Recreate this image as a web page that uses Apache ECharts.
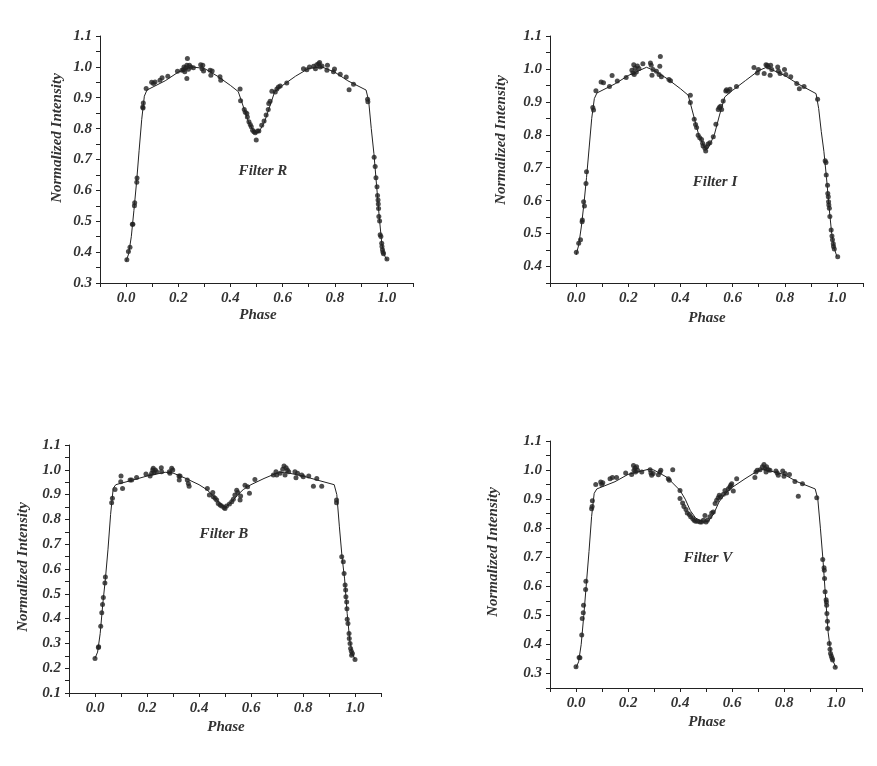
<!DOCTYPE html>
<html>
<head>
<meta charset="utf-8">
<script src="https://cdn.jsdelivr.net/npm/echarts@6/dist/echarts.min.js"></script>
<style>
  html, body { margin: 0; padding: 0; background: #fff; }
  #chart { width: 877px; height: 766px; }
</style>
</head>
<body>
<div id="chart"></div>
<script>
// observed points [phase, normalized intensity]
const rObs = [
  [0.003,0.375],[0.009,0.402],[0.015,0.416],[0.024,0.49],[0.026,0.49],[0.032,0.55],[0.033,0.56],
  [0.041,0.626],[0.042,0.64],[0.064,0.87],[0.066,0.883],[0.065,0.867],[0.077,0.93],[0.098,0.95],
  [0.105,0.946],[0.111,0.951],[0.13,0.957],[0.138,0.965],[0.16,0.97],[0.197,0.986],[0.214,0.989],
  [0.22,0.991],[0.222,1.0],[0.225,0.984],[0.229,0.997],[0.233,1.005],[0.233,0.962],[0.235,1.027],
  [0.239,0.992],[0.243,1.005],[0.248,1.0],[0.258,0.997],[0.286,1.007],[0.291,0.994],[0.294,1.005],
  [0.297,0.987],[0.322,0.989],[0.325,0.973],[0.33,0.987],[0.36,0.968],[0.363,0.957],[0.437,0.928],
  [0.439,0.89],[0.453,0.862],[0.457,0.853],[0.463,0.849],[0.465,0.838],[0.471,0.822],[0.476,0.813],
  [0.48,0.806],[0.485,0.795],[0.49,0.79],[0.495,0.787],[0.499,0.763],[0.504,0.792],[0.509,0.792],
  [0.52,0.811],[0.529,0.825],[0.537,0.844],[0.545,0.862],[0.547,0.881],[0.552,0.889],[0.559,0.921],
  [0.572,0.919],[0.578,0.928],[0.584,0.935],[0.591,0.938],[0.616,0.948],[0.68,0.994],[0.693,0.991],
  [0.703,1.0],[0.719,1.002],[0.726,0.994],[0.731,1.007],[0.738,1.01],[0.742,1.014],[0.744,1.0],
  [0.751,1.003],[0.77,0.989],[0.772,1.005],[0.795,0.984],[0.799,0.993],[0.821,0.976],[0.844,0.967],
  [0.855,0.926],[0.872,0.944],[0.926,0.895],[0.927,0.887],[0.951,0.707],[0.955,0.677],[0.958,0.641],
  [0.962,0.612],[0.964,0.583],[0.966,0.569],[0.967,0.556],[0.968,0.541],[0.969,0.515],[0.972,0.501],
  [0.974,0.456],[0.977,0.451],[0.98,0.429],[0.981,0.418],[0.983,0.408],[0.985,0.4],[0.987,0.395],[1.0,0.378]
];
const iObs = [
  [0.001,0.443],[0.01,0.471],[0.017,0.481],[0.023,0.536],[0.024,0.541],[0.029,0.597],[0.032,0.584],
  [0.038,0.652],[0.04,0.688],[0.064,0.883],[0.067,0.875],[0.076,0.934],[0.096,0.96],[0.105,0.958],
  [0.128,0.947],[0.138,0.98],[0.158,0.963],[0.192,0.974],[0.214,0.996],[0.218,0.988],[0.221,1.013],
  [0.223,0.983],[0.226,1.003],[0.231,0.991],[0.235,1.009],[0.241,1.001],[0.256,1.016],[0.285,1.018],
  [0.288,1.011],[0.291,0.981],[0.295,0.998],[0.308,0.993],[0.318,0.983],[0.323,1.038],[0.321,1.008],
  [0.327,0.976],[0.356,0.968],[0.362,0.964],[0.438,0.92],[0.438,0.898],[0.453,0.847],[0.458,0.831],
  [0.462,0.822],[0.468,0.799],[0.474,0.791],[0.481,0.786],[0.485,0.774],[0.487,0.766],[0.494,0.759],
  [0.497,0.751],[0.5,0.764],[0.506,0.772],[0.513,0.776],[0.526,0.794],[0.536,0.832],[0.545,0.877],
  [0.549,0.883],[0.554,0.887],[0.558,0.877],[0.564,0.903],[0.574,0.933],[0.577,0.937],[0.583,0.932],
  [0.59,0.938],[0.615,0.947],[0.682,1.004],[0.695,0.988],[0.699,0.998],[0.721,0.986],[0.728,1.013],
  [0.733,1.011],[0.737,1.006],[0.744,0.981],[0.746,1.011],[0.75,0.998],[0.773,1.006],[0.776,0.994],
  [0.782,0.986],[0.799,0.998],[0.804,0.983],[0.823,0.976],[0.846,0.956],[0.856,0.94],[0.874,0.947],
  [0.926,0.908],[0.955,0.721],[0.958,0.716],[0.959,0.678],[0.964,0.647],[0.965,0.622],[0.967,0.612],
  [0.968,0.597],[0.969,0.587],[0.971,0.577],[0.973,0.552],[0.978,0.511],[0.981,0.493],[0.983,0.481],
  [0.986,0.469],[0.987,0.461],[0.99,0.453],[1.003,0.43]
];
const bObs = [
  [0.0,0.239],[0.013,0.283],[0.014,0.286],[0.022,0.369],[0.026,0.424],[0.029,0.457],[0.032,0.485],
  [0.038,0.544],[0.04,0.568],[0.064,0.867],[0.067,0.885],[0.077,0.921],[0.1,0.975],[0.099,0.952],
  [0.106,0.925],[0.135,0.959],[0.141,0.959],[0.16,0.969],[0.196,0.983],[0.212,0.975],[0.218,0.986],
  [0.222,0.999],[0.224,1.006],[0.227,0.988],[0.232,0.999],[0.237,0.992],[0.255,1.008],[0.256,0.992],
  [0.286,0.992],[0.288,0.986],[0.295,1.006],[0.299,0.999],[0.323,0.975],[0.324,0.959],[0.327,0.975],
  [0.355,0.959],[0.359,0.945],[0.362,0.934],[0.432,0.925],[0.44,0.898],[0.453,0.908],[0.455,0.891],
  [0.462,0.885],[0.468,0.878],[0.474,0.864],[0.481,0.858],[0.487,0.854],[0.496,0.848],[0.5,0.844],
  [0.506,0.854],[0.517,0.862],[0.526,0.871],[0.532,0.881],[0.538,0.898],[0.545,0.918],[0.549,0.908],
  [0.558,0.878],[0.56,0.894],[0.577,0.938],[0.587,0.932],[0.594,0.905],[0.615,0.961],[0.686,0.979],
  [0.696,0.992],[0.699,0.979],[0.712,0.986],[0.722,1.002],[0.727,1.015],[0.731,0.979],[0.735,1.008],
  [0.74,0.999],[0.745,0.992],[0.769,0.992],[0.773,0.968],[0.779,0.986],[0.795,0.979],[0.801,0.972],
  [0.822,0.975],[0.84,0.934],[0.853,0.965],[0.872,0.934],[0.929,0.878],[0.929,0.867],[0.949,0.649],
  [0.955,0.629],[0.958,0.582],[0.962,0.535],[0.964,0.515],[0.965,0.488],[0.968,0.467],[0.969,0.44],
  [0.97,0.397],[0.973,0.38],[0.977,0.34],[0.978,0.32],[0.981,0.3],[0.983,0.279],[0.986,0.268],
  [0.987,0.252],[0.99,0.259],[1.0,0.235]
];
const vObs = [
  [0.0,0.323],[0.012,0.355],[0.015,0.354],[0.022,0.432],[0.024,0.489],[0.028,0.509],[0.029,0.535],
  [0.037,0.589],[0.038,0.617],[0.06,0.867],[0.062,0.875],[0.063,0.894],[0.076,0.95],[0.095,0.959],
  [0.099,0.95],[0.103,0.956],[0.131,0.97],[0.14,0.974],[0.156,0.974],[0.191,0.99],[0.214,0.985],
  [0.221,1.016],[0.223,0.999],[0.227,1.007],[0.229,0.993],[0.233,1.011],[0.237,0.999],[0.253,0.993],
  [0.285,1.001],[0.288,0.99],[0.291,0.982],[0.297,0.988],[0.317,0.984],[0.323,0.993],[0.326,0.999],
  [0.355,0.97],[0.359,0.965],[0.372,1.001],[0.4,0.93],[0.4,0.902],[0.41,0.887],[0.415,0.875],
  [0.423,0.864],[0.428,0.852],[0.436,0.847],[0.441,0.839],[0.449,0.833],[0.454,0.827],[0.46,0.824],
  [0.468,0.824],[0.477,0.821],[0.483,0.821],[0.49,0.827],[0.496,0.844],[0.5,0.821],[0.505,0.827],
  [0.515,0.839],[0.522,0.852],[0.528,0.856],[0.535,0.885],[0.541,0.896],[0.547,0.905],[0.551,0.913],
  [0.556,0.907],[0.567,0.917],[0.573,0.93],[0.579,0.921],[0.586,0.936],[0.592,0.942],[0.595,0.948],
  [0.599,0.953],[0.605,0.928],[0.618,0.97],[0.688,0.974],[0.692,0.993],[0.697,0.999],[0.708,1.001],
  [0.717,1.011],[0.723,1.019],[0.727,1.005],[0.731,0.993],[0.733,1.011],[0.74,1.001],[0.746,0.999],
  [0.769,0.997],[0.774,0.99],[0.778,0.982],[0.795,0.997],[0.8,0.979],[0.804,0.988],[0.821,0.985],
  [0.842,0.961],[0.855,0.91],[0.871,0.953],[0.926,0.905],[0.949,0.692],[0.954,0.664],[0.955,0.655],
  [0.956,0.627],[0.958,0.581],[0.962,0.554],[0.963,0.546],[0.964,0.535],[0.965,0.506],[0.967,0.48],
  [0.968,0.455],[0.974,0.403],[0.977,0.383],[0.979,0.369],[0.982,0.36],[0.985,0.352],[0.987,0.346],[0.997,0.321]
];

// model curves [phase, normalized intensity]
const rFit = [
  [0,0.37],[0.01,0.395],[0.02,0.45],[0.03,0.535],[0.04,0.625],[0.05,0.73],[0.06,0.83],[0.07,0.905],
  [0.08,0.925],[0.15,0.955],[0.2,0.983],[0.25,1.0],[0.3,0.995],[0.35,0.97],[0.4,0.94],[0.43,0.92],
  [0.45,0.87],[0.47,0.82],[0.49,0.79],[0.5,0.785],[0.51,0.79],[0.53,0.82],[0.55,0.87],[0.57,0.92],
  [0.6,0.94],[0.65,0.97],[0.7,0.995],[0.75,1.0],[0.8,0.983],[0.85,0.955],[0.92,0.925],[0.93,0.89],
  [0.94,0.8],[0.95,0.72],[0.96,0.62],[0.97,0.52],[0.98,0.43],[0.99,0.39],[1.0,0.375]
];
const iFit = [
  [0,0.435],[0.01,0.465],[0.02,0.52],[0.03,0.59],[0.04,0.67],[0.05,0.76],[0.06,0.85],[0.07,0.91],
  [0.08,0.927],[0.15,0.955],[0.2,0.98],[0.27,1.005],[0.3,0.995],[0.35,0.97],[0.4,0.94],[0.43,0.92],
  [0.45,0.86],[0.47,0.8],[0.49,0.765],[0.5,0.755],[0.51,0.765],[0.53,0.8],[0.55,0.86],[0.57,0.915],
  [0.6,0.935],[0.65,0.965],[0.7,0.995],[0.73,1.005],[0.8,0.98],[0.85,0.955],[0.92,0.925],[0.93,0.88],
  [0.94,0.81],[0.95,0.75],[0.96,0.67],[0.97,0.58],[0.98,0.5],[0.99,0.455],[1.0,0.43]
];
const bFit = [
  [0,0.24],[0.01,0.265],[0.02,0.34],[0.03,0.46],[0.04,0.56],[0.05,0.68],[0.06,0.82],[0.07,0.925],
  [0.08,0.94],[0.15,0.96],[0.2,0.975],[0.27,0.99],[0.3,0.987],[0.35,0.965],[0.4,0.94],[0.43,0.92],
  [0.45,0.9],[0.48,0.865],[0.5,0.848],[0.52,0.865],[0.55,0.9],[0.57,0.92],[0.6,0.94],[0.65,0.965],
  [0.7,0.987],[0.73,0.99],[0.8,0.975],[0.85,0.96],[0.92,0.94],[0.93,0.9],[0.94,0.77],[0.95,0.65],
  [0.96,0.56],[0.97,0.42],[0.98,0.31],[0.99,0.26],[1.0,0.235]
];
const vFit = [
  [0,0.32],[0.01,0.34],[0.02,0.4],[0.03,0.5],[0.04,0.61],[0.05,0.72],[0.06,0.84],[0.07,0.92],
  [0.08,0.935],[0.15,0.96],[0.2,0.985],[0.28,1.003],[0.3,1.0],[0.35,0.975],[0.4,0.93],[0.42,0.9],
  [0.44,0.86],[0.46,0.835],[0.49,0.82],[0.51,0.825],[0.53,0.85],[0.55,0.89],[0.57,0.915],[0.6,0.94],
  [0.65,0.97],[0.7,0.998],[0.72,1.003],[0.8,0.985],[0.85,0.96],[0.92,0.935],[0.93,0.9],[0.94,0.8],
  [0.95,0.69],[0.96,0.56],[0.97,0.44],[0.98,0.37],[0.99,0.34],[1.0,0.32]
];

const filterNames = ['Filter R', 'Filter I', 'Filter B', 'Filter V'];
const yMins = [0.3, 0.35, 0.1, 0.25];
const yMax = 1.1;

const font = 'Liberation Serif, Times New Roman, serif';
const ink = '#222';
const textInk = '#333';

// panel boxes in px
const grids = [
  { left: 100, top: 36, width: 313, height: 247 },
  { left: 550, top: 36, width: 313, height: 247 },
  { left: 69, top: 445, width: 312, height: 248 },
  { left: 550, top: 441, width: 312, height: 247 }
];
const yNamePos = [[57, 138], [501, 140], [23, 567], [493, 552]];
const xNamePos = [[258, 315], [707, 318], [226, 727], [707, 722]];
const filterPos = [[263, 171], [715, 182], [224, 534], [708, 558]];

const obs = [rObs, iObs, bObs, vObs];
const fit = [rFit, iFit, bFit, vFit];

const labelStyle = { fontFamily: font, fontStyle: 'italic', fontWeight: 'bold', fontSize: 15, color: textInk };

const chart = echarts.init(document.getElementById('chart'));
const option = {
  backgroundColor: '#fff',
  animation: false,
  grid: grids,
  xAxis: grids.map((g, i) => ({
    type: 'value',
    gridIndex: i,
    min: -0.1,
    max: 1.1,
    interval: 0.1,
    splitLine: { show: false },
    axisLine: { show: true, onZero: false, lineStyle: { color: ink, width: 1 } },
    axisTick: { show: true, length: 4, lineStyle: { color: ink } },
    axisLabel: Object.assign({}, labelStyle, {
      margin: 8,
      showMinLabel: true,
      showMaxLabel: true,
      formatter: function (v) {
        const k = Math.round(v * 10);
        return (k >= 0 && k <= 10 && k % 2 === 0) ? (k / 10).toFixed(1) : '';
      }
    })
  })),
  yAxis: grids.map((g, i) => ({
    type: 'value',
    gridIndex: i,
    min: yMins[i],
    max: yMax,
    interval: 0.05,
    splitLine: { show: false },
    axisLine: { show: true, onZero: false, lineStyle: { color: ink, width: 1 } },
    axisTick: { show: true, length: 4, lineStyle: { color: ink } },
    axisLabel: Object.assign({}, labelStyle, {
      margin: 8,
      showMinLabel: true,
      showMaxLabel: true,
      formatter: function (v) {
        const k = Math.round(v * 100);
        return k % 10 === 0 ? (k / 100).toFixed(1) : '';
      }
    })
  })),
  series: [].concat(
    fit.map((d, i) => ({
      type: 'line',
      xAxisIndex: i,
      yAxisIndex: i,
      data: d,
      symbol: 'none',
      lineStyle: { color: ink, width: 1 },
      z: 2
    })),
    obs.map((d, i) => ({
      type: 'scatter',
      xAxisIndex: i,
      yAxisIndex: i,
      data: d,
      symbol: 'circle',
      symbolSize: 5,
      itemStyle: { color: ink },
      z: 3
    }))
  ),
  graphic: [].concat(
    yNamePos.map(p => ({
      type: 'text', x: p[0], y: p[1], rotation: Math.PI / 2,
      style: { text: 'Normalized Intensity', textAlign: 'center', textVerticalAlign: 'middle',
        font: 'italic bold 15px ' + font, fill: textInk }
    })),
    xNamePos.map(p => ({
      type: 'text', x: p[0], y: p[1],
      style: { text: 'Phase', textAlign: 'center', textVerticalAlign: 'middle',
        font: 'italic bold 15px ' + font, fill: textInk }
    })),
    filterPos.map((p, i) => ({
      type: 'text', x: p[0], y: p[1],
      style: { text: filterNames[i], textAlign: 'center', textVerticalAlign: 'middle',
        font: 'italic bold 15px ' + font, fill: textInk }
    }))
  )
};
chart.setOption(option);
</script>
</body>
</html>
